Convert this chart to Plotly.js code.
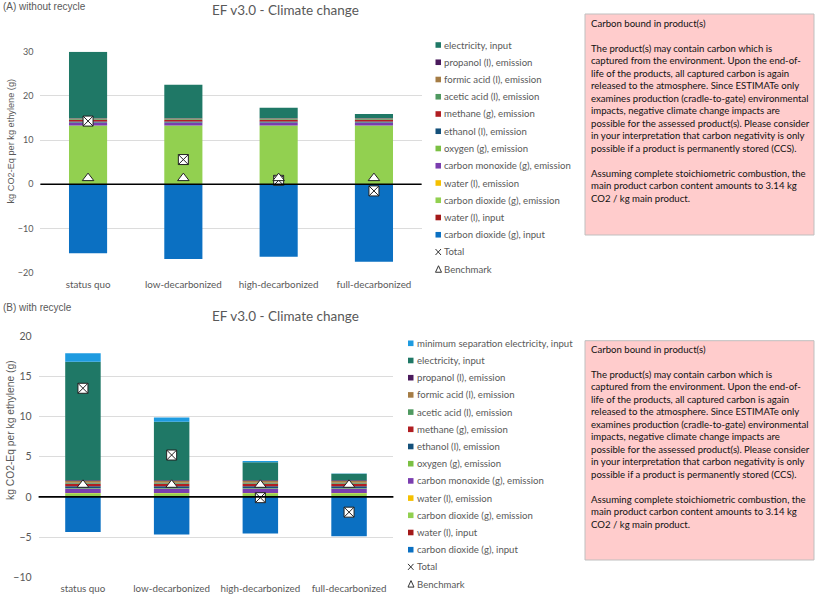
<!DOCTYPE html>
<html>
<head>
<meta charset="utf-8">
<script src="https://cdn.plot.ly/plotly-3.0.1.min.js"></script>
<style>html,body{margin:0;padding:0;background:#fff;}#chart{width:817px;height:598px;}</style>
</head>
<body>
<div id="chart"></div>
<script>
// ---------- DATA ----------
const categories = ['status quo', 'low-decarbonized', 'high-decarbonized', 'full-decarbonized'];

// (A) without recycle
const A_co2_input      = [-15.6, -16.9, -16.4, -17.5];
const A_water_input    = [0, 0, 0, 0];
const A_co2_emission   = [13.3, 13.3, 13.3, 13.3];
const A_water_emission = [0.02, 0.02, 0.02, 0.02];
const A_co             = [0.6, 0.6, 0.6, 0.6];
const A_oxygen         = [0.05, 0.05, 0.05, 0.05];
const A_ethanol        = [0.25, 0.25, 0.25, 0.25];
const A_methane        = [0.35, 0.35, 0.35, 0.35];
const A_acetic         = [0.15, 0.15, 0.15, 0.15];
const A_formic         = [0.15, 0.15, 0.15, 0.15];
const A_propanol       = [0.1, 0.1, 0.1, 0.1];
const A_electricity    = [15.03, 7.53, 2.33, 0.93];
const A_total          = [14.3, 5.6, 0.9, -1.5];
const A_benchmark      = [1.4, 1.4, 1.4, 1.4];

// (B) with recycle
const B_co2_input      = [-4.36, -4.69, -4.56, -4.9];
const B_water_input    = [0, 0, 0, 0];
const B_co2_emission   = [0.45, 0.45, 0.45, 0.45];
const B_water_emission = [0.02, 0.02, 0.02, 0.02];
const B_co             = [0.55, 0.55, 0.55, 0.55];
const B_oxygen         = [0.05, 0.05, 0.05, 0.05];
const B_ethanol        = [0.25, 0.25, 0.25, 0.25];
const B_methane        = [0.3, 0.3, 0.3, 0.3];
const B_acetic         = [0.15, 0.15, 0.15, 0.15];
const B_formic         = [0.2, 0.2, 0.2, 0.2];
const B_propanol       = [0.1, 0.1, 0.1, 0.1];
const B_electricity    = [14.73, 7.27, 2.23, 0.8];
const B_minsep         = [1.06, 0.54, 0.15, 0.05];
const B_total          = [13.5, 5.2, -0.1, -1.9];
const B_benchmark      = [1.5, 1.5, 1.5, 1.5];

// series names in stacking order (bottom -> top)
const seriesNames = ['carbon dioxide (g), input', 'water (l), input', 'carbon dioxide (g), emission',
  'water (l), emission', 'carbon monoxide (g), emission', 'oxygen (g), emission', 'ethanol (l), emission',
  'methane (g), emission', 'acetic acid (l), emission', 'formic acid (l), emission', 'propanol (l), emission',
  'electricity, input', 'minimum separation electricity, input'];
const seriesColors = ['#0B70C2', '#A31919', '#92D050', '#F5C000', '#7A3DAF', '#7BC043', '#14507A',
  '#B01E22', '#4F9960', '#A57C45', '#4A1A5C', '#1F7866', '#1E9BE0'];

const A_series = [A_co2_input, A_water_input, A_co2_emission, A_water_emission, A_co, A_oxygen,
  A_ethanol, A_methane, A_acetic, A_formic, A_propanol, A_electricity];
const B_series = [B_co2_input, B_water_input, B_co2_emission, B_water_emission, B_co, B_oxygen,
  B_ethanol, B_methane, B_acetic, B_formic, B_propanol, B_electricity, B_minsep];

// ---------- HELPERS ----------
const W = 817, H = 598;
const px = x => x / W;
const py = y => 1 - y / H;
const GRAY = '#595959';
const FONT = 'Lato, "Open Sans", sans-serif';

const traces = [];
function addChart(series, total, bench, xa, ya) {
  series.forEach((vals, i) => {
    traces.push({
      type: 'bar', x: categories, y: vals, name: seriesNames[i], xaxis: xa, yaxis: ya,
      marker: {color: seriesColors[i], line: {width: 0}}, showlegend: false
    });
  });
  traces.push({
    type: 'scatter', mode: 'markers', x: categories, y: total, name: 'Total', xaxis: xa, yaxis: ya,
    marker: {symbol: 'square-x', size: 10, color: '#ffffff', line: {color: '#222', width: 1}}, showlegend: false
  });
  traces.push({
    type: 'scatter', mode: 'markers', x: categories, y: bench, name: 'Benchmark', xaxis: xa, yaxis: ya,
    marker: {symbol: 'triangle-up', size: 10, color: '#ffffff', line: {color: '#222', width: 1}}, showlegend: false
  });
}
addChart(A_series, A_total, A_benchmark, 'x', 'y');
addChart(B_series, B_total, B_benchmark, 'x2', 'y2');

const shapes = [];
const annotations = [];

// zero lines (drawn above bars)
shapes.push({type: 'line', xref: 'x domain', yref: 'y', x0: 0, x1: 1, y0: 0, y1: 0, line: {color: '#000', width: 1.6}});
shapes.push({type: 'line', xref: 'x2 domain', yref: 'y2', x0: 0, x1: 1, y0: 0, y1: 0, line: {color: '#000', width: 1.6}});

// manual legends
function addLegend(entries, colors, symX, textX, y0, step) {
  entries.forEach((name, i) => {
    const yc = y0 + i * step;
    if (name === 'Total') {
      shapes.push({type: 'line', xref: 'paper', yref: 'paper', x0: px(symX), x1: px(symX + 5.5), y0: py(yc - 3), y1: py(yc + 3), line: {color: '#333', width: 1}});
      shapes.push({type: 'line', xref: 'paper', yref: 'paper', x0: px(symX), x1: px(symX + 5.5), y0: py(yc + 3), y1: py(yc - 3), line: {color: '#333', width: 1}});
    } else if (name === 'Benchmark') {
      shapes.push({type: 'path', xref: 'paper', yref: 'paper',
        path: `M ${px(symX)} ${py(yc + 3)} L ${px(symX + 6)} ${py(yc + 3)} L ${px(symX + 3)} ${py(yc - 3.5)} Z`,
        line: {color: '#333', width: 1}, fillcolor: 'rgba(0,0,0,0)'});
    } else {
      shapes.push({type: 'rect', xref: 'paper', yref: 'paper', x0: px(symX), x1: px(symX + 5.5), y0: py(yc + 2.8), y1: py(yc - 2.8), line: {width: 0}, fillcolor: colors[i]});
    }
    annotations.push({xref: 'paper', yref: 'paper', x: px(textX), y: py(yc), xanchor: 'left', yanchor: 'middle',
      text: name, showarrow: false, font: {family: FONT, size: 9.6, color: GRAY}});
  });
}
const legA = seriesNames.slice(0, 12).reverse().concat(['Total', 'Benchmark']);
const colA = seriesColors.slice(0, 12).reverse().concat(['', '']);
addLegend(legA, colA, 435.5, 442, 45, 17.25);
const legB = seriesNames.slice(0, 13).reverse().concat(['Total', 'Benchmark']);
const colB = seriesColors.slice(0, 13).reverse().concat(['', '']);
addLegend(legB, colB, 408, 415, 343.3, 17.2);

// note boxes
const noteText = [
  'Carbon bound in product(s)', '',
  'The product(s) may contain carbon which is',
  'captured from the environment. Upon the end-of-',
  'life of the products, all captured carbon is again',
  'released to the atmosphere. Since ESTIMATe only',
  'examines production (cradle-to-gate) environmental',
  'impacts, negative climate change impacts are',
  'possible for the assessed product(s). Please consider',
  'in your interpretation that carbon negativity is only',
  'possible if a product is permanently stored (CCS).', '',
  'Assuming complete stoichiometric combustion, the',
  'main product carbon content amounts to 3.14 kg',
  'CO2 / kg main product.'
].join('<br>');
function addNote(top, bottom, firstLine, lastLine) {
  shapes.push({type: 'rect', xref: 'paper', yref: 'paper', layer: 'below', x0: px(585), x1: px(814), y0: py(top), y1: py(bottom),
    fillcolor: '#FFCCCC', line: {color: '#BFBFBF', width: 1}});
  annotations.push({xref: 'paper', yref: 'paper', x: px(589), y: py((firstLine + lastLine) / 2), xanchor: 'left', yanchor: 'middle',
    align: 'left', text: noteText, showarrow: false, font: {family: FONT, size: 9.6, color: '#111'}});
}
addNote(14, 235, 25, 197.9);
addNote(340.7, 560, 350.7, 524);

// panel labels and titles
annotations.push({xref: 'paper', yref: 'paper', x: px(1), y: py(6.5), xanchor: 'left', yanchor: 'middle', text: '(A) without recycle',
  showarrow: false, font: {family: '"Liberation Sans", Arial, sans-serif', size: 10, color: GRAY}});
annotations.push({xref: 'paper', yref: 'paper', x: px(1), y: py(307.5), xanchor: 'left', yanchor: 'middle', text: '(B) with recycle',
  showarrow: false, font: {family: '"Liberation Sans", Arial, sans-serif', size: 10, color: GRAY}});
annotations.push({xref: 'paper', yref: 'paper', x: px(285.5), y: py(9.5), xanchor: 'center', yanchor: 'middle', text: 'EF v3.0 - Climate change',
  showarrow: false, font: {family: FONT, size: 13.5, color: GRAY}});
annotations.push({xref: 'paper', yref: 'paper', x: px(285), y: py(315.7), xanchor: 'center', yanchor: 'middle', text: 'EF v3.0 - Climate change',
  showarrow: false, font: {family: FONT, size: 13.5, color: GRAY}});
annotations.push({xref: 'paper', yref: 'paper', x: px(10), y: py(141.5), xanchor: 'center', yanchor: 'middle', textangle: -90,
  text: 'kg CO2-Eq per kg ethylene (g)', showarrow: false, font: {family: '"Liberation Sans", Arial, sans-serif', size: 9.2, color: GRAY}});
annotations.push({xref: 'paper', yref: 'paper', x: px(10), y: py(430), xanchor: 'center', yanchor: 'middle', textangle: -90,
  text: 'kg CO2-Eq per kg ethylene (g)', showarrow: false, font: {family: '"Liberation Sans", Arial, sans-serif', size: 10.3, color: GRAY}});

const yCommon = {showline: false, zeroline: false, gridcolor: '#DCDCDC', gridwidth: 1, ticks: '', fixedrange: true};
const xCommon = {type: 'category', showgrid: false, showline: false, zeroline: false, ticks: '', fixedrange: true,
  tickfont: {family: FONT, size: 9.8, color: GRAY}};

const layout = {
  width: W, height: H, margin: {l: 0, r: 0, t: 0, b: 0},
  paper_bgcolor: '#ffffff', plot_bgcolor: 'rgba(0,0,0,0)',
  showlegend: false, barmode: 'relative', bargap: 0.6,
  xaxis: Object.assign({}, xCommon, {domain: [px(40.4), px(421.6)], anchor: 'y', ticklabelstandoff: 4}),
  yaxis: Object.assign({}, yCommon, {domain: [py(272.7), py(51.7)], range: [-20, 30], dtick: 10, anchor: 'x',
    tickfont: {family: FONT, size: 9, color: GRAY}, ticklabelstandoff: 6}),
  xaxis2: Object.assign({}, xCommon, {domain: [px(38.6), px(393.4)], anchor: 'y2', ticklabelstandoff: 4}),
  yaxis2: Object.assign({}, yCommon, {domain: [py(577.3), py(336)], range: [-10, 20], dtick: 5, anchor: 'x2',
    tickfont: {family: FONT, size: 10.5, color: GRAY}, ticklabelstandoff: 6}),
  shapes: shapes, annotations: annotations
};

Plotly.newPlot('chart', traces, layout, {displayModeBar: false, staticPlot: true});
</script>
</body>
</html>
